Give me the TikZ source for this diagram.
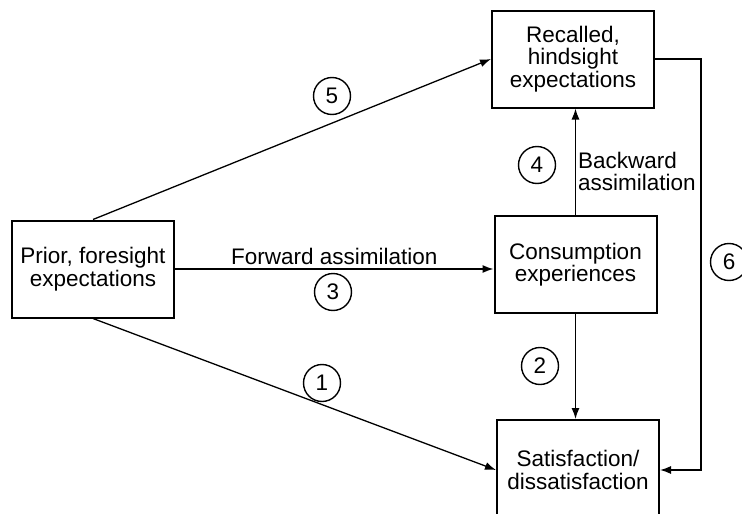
\documentclass[tikz,border=0pt]{standalone}
\usepackage{fontspec}
\setmainfont{Liberation Sans}
\usetikzlibrary{arrows.meta, positioning, calc}

\begin{document}
\begin{tikzpicture}[
  x=1pt, y=-1pt,
  font=\fontsize{22.5}{22.5}\selectfont,
  stage/.style={draw, line width=2pt, minimum width=162pt, minimum height=97pt,
                align=center, inner sep=2pt},
  num/.style={draw, circle, line width=1.4pt, minimum size=37pt, inner sep=0pt},
  flow/.style={-{Latex[length=11pt, width=8pt]}, line width=1.3pt},
]
\useasboundingbox (0,0) rectangle (742,514);

% Stages
\node[stage] (prior)    at ( 93,269)   {Prior, foresight\\expectations};
\node[stage] (recalled) at (573, 59)   {Recalled,\\hindsight\\expectations};
\node[stage] (consump)  at (575.5,264.5) {Consumption\\experiences};
\node[stage, minimum height=100pt] (satis) at (578,470) {Satisfaction/\\dissatisfaction};

% Links between stages
\draw[flow] (prior.east) -- (prior.east -| consump.west)
  node[above, pos=0.5, inner sep=4pt] (fwdlabel) {Forward assimilation};
\draw[flow] (prior.north) -- (recalled.west);
\draw[flow] (prior.south) -- (satis.west);
\draw[flow] (consump.north) -- (consump.north |- recalled.south)
  node[right, pos=0.41, align=left, inner sep=2pt] (bwdlabel) {Backward\\assimilation};
\draw[flow] (consump.south) -- (consump.south |- satis.north);
\draw[flow] (recalled.east) -- ++(46,0) |- (satis.east);

% Circled path numbers
\node[num] (n1) at (322,383) {1};
\node[num] (n2) at (540,366) {2};
\node[num] (n3) at (333,292) {3};
\node[num] (n4) at (537,165) {4};
\node[num] (n5) at (332, 96) {5};
\node[num] (n6) at (729,262) {6};
\end{tikzpicture}
\end{document}
